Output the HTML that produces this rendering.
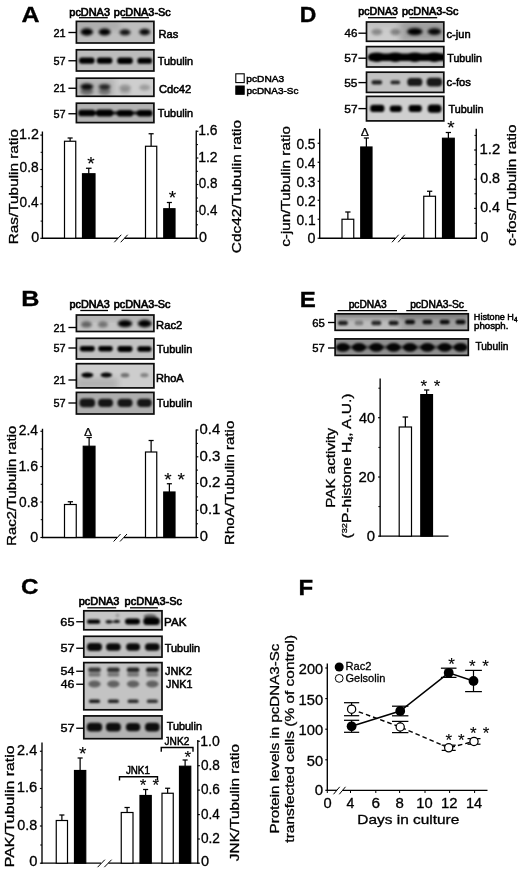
<!DOCTYPE html>
<html lang="en"><head><meta charset="utf-8"><title>Figure</title>
<style>
html,body{margin:0;padding:0;background:#fff;}
body{width:520px;height:870px;overflow:hidden;}
svg{display:block;font-family:"Liberation Sans",sans-serif;fill:#000;}
svg text{fill:#000;stroke:#000;stroke-width:.32px;}
</style></head><body>
<svg width="520" height="870" viewBox="0 0 520 870">
<defs>
<filter id="b1" x="-5%" y="-30%" width="110%" height="160%"><feGaussianBlur stdDeviation="1.1"/></filter>
<filter id="b2" x="-5%" y="-30%" width="110%" height="160%"><feGaussianBlur stdDeviation="1.6"/></filter>
<filter id="b3" x="-10%" y="-40%" width="120%" height="180%"><feGaussianBlur stdDeviation="3"/></filter>
</defs>
<rect x="0" y="0" width="520" height="870" fill="#fff"/>
<text x="21.5" y="22" font-size="22.5" font-weight="700" textLength="18.05" lengthAdjust="spacingAndGlyphs">A</text>
<text x="69.34" y="15.5" font-size="10.4" textLength="40.65" lengthAdjust="spacingAndGlyphs" style="stroke-width:0.65px">pcDNA3</text>
<line x1="79" y1="17.7" x2="107.8" y2="17.7" stroke="#000" stroke-width="1.3"/>
<text x="113.85" y="15.5" font-size="10.4" textLength="56.87" lengthAdjust="spacingAndGlyphs" style="stroke-width:0.65px">pcDNA3-Sc</text>
<line x1="121.5" y1="17.7" x2="149" y2="17.7" stroke="#000" stroke-width="1.3"/>
<clipPath id="c1"><rect x="76.4" y="21.4" width="77.5" height="21.6"/></clipPath>
<rect x="76.4" y="21.4" width="77.5" height="21.6" fill="#bebebe"/>
<g clip-path="url(#c1)" filter="url(#b3)">
<rect x="76" y="21" width="44" height="9" fill="#888" opacity="0.35"/>
</g>
<g clip-path="url(#c1)" filter="url(#b2)">
<ellipse cx="86.8" cy="32" rx="6.25" ry="3.7" fill="#000" opacity="1"/>
<ellipse cx="104.6" cy="32" rx="6" ry="3.6" fill="#000" opacity="1"/>
<ellipse cx="125" cy="32.3" rx="5.5" ry="3" fill="#000" opacity="0.9"/>
<ellipse cx="144.7" cy="32" rx="5.5" ry="3.2" fill="#000" opacity="0.95"/>
</g>
<rect x="76.4" y="21.4" width="77.5" height="21.6" fill="none" stroke="#0c0c0c" stroke-width="1.7"/>
<clipPath id="c2"><rect x="76.4" y="49.8" width="77.5" height="21.2"/></clipPath>
<rect x="76.4" y="49.8" width="77.5" height="21.2" fill="#bcbcbc"/>
<g clip-path="url(#c2)" filter="url(#b1)">
<rect x="79.05" y="57.4" width="15.5" height="6.4" rx="2.72" fill="#000" opacity="1"/>
<rect x="96.85" y="57.4" width="15.5" height="6.4" rx="2.72" fill="#000" opacity="1"/>
<rect x="117.25" y="57.6" width="15.5" height="6.4" rx="2.72" fill="#000" opacity="1"/>
<rect x="137.45" y="57.8" width="14.5" height="6" rx="2.55" fill="#000" opacity="1"/>
</g>
<rect x="76.4" y="49.8" width="77.5" height="21.2" fill="none" stroke="#0c0c0c" stroke-width="1.7"/>
<clipPath id="c3"><rect x="76.4" y="78.2" width="77.5" height="18.1"/></clipPath>
<rect x="76.4" y="78.2" width="77.5" height="18.1" fill="#cecece"/>
<g clip-path="url(#c3)" filter="url(#b3)">
<rect x="76" y="78" width="39" height="19" fill="#777" opacity="0.3"/>
</g>
<g clip-path="url(#c3)" filter="url(#b2)">
<ellipse cx="86.8" cy="86.6" rx="6.5" ry="3" fill="#000" opacity="0.95"/>
<ellipse cx="86.8" cy="91.5" rx="6.5" ry="3.5" fill="#000" opacity="0.42"/>
<ellipse cx="104.6" cy="86.8" rx="6" ry="2.8" fill="#000" opacity="0.8"/>
<ellipse cx="104.6" cy="91.5" rx="6" ry="3.5" fill="#000" opacity="0.36"/>
<ellipse cx="125" cy="88" rx="6" ry="3.5" fill="#000" opacity="0.27"/>
<ellipse cx="144.7" cy="87.5" rx="5.5" ry="3" fill="#000" opacity="0.24"/>
<ellipse cx="125" cy="92" rx="6" ry="3" fill="#000" opacity="0.12"/>
</g>
<rect x="76.4" y="78.2" width="77.5" height="18.1" fill="none" stroke="#0c0c0c" stroke-width="1.7"/>
<clipPath id="c4"><rect x="76.4" y="103.2" width="77.5" height="19.4"/></clipPath>
<rect x="76.4" y="103.2" width="77.5" height="19.4" fill="#b2b2b2"/>
<g clip-path="url(#c4)" filter="url(#b1)">
<rect x="78.3" y="109.7" width="17" height="6.6" rx="2.8" fill="#000" opacity="1"/>
<rect x="96.1" y="109.6" width="17" height="6.8" rx="2.89" fill="#000" opacity="1"/>
<rect x="117" y="109.9" width="16" height="6.6" rx="2.8" fill="#000" opacity="1"/>
<rect x="136.95" y="110" width="15.5" height="6.4" rx="2.72" fill="#000" opacity="1"/>
<rect x="80" y="111.35" width="70" height="3.5" rx="1.49" fill="#000" opacity="0.8"/>
</g>
<rect x="76.4" y="103.2" width="77.5" height="19.4" fill="none" stroke="#0c0c0c" stroke-width="1.7"/>
<text x="53.45" y="36.65" font-size="11.7" textLength="12.26" lengthAdjust="spacingAndGlyphs" style="stroke-width:0.42px">21</text>
<line x1="68.4" y1="32.5" x2="76.4" y2="32.5" stroke="#000" stroke-width="1.35"/>
<text x="53.56" y="64.9" font-size="11.7" textLength="12.14" lengthAdjust="spacingAndGlyphs" style="stroke-width:0.42px">57</text>
<line x1="68.4" y1="60.75" x2="76.4" y2="60.75" stroke="#000" stroke-width="1.35"/>
<text x="53.45" y="92.4" font-size="11.7" textLength="12.26" lengthAdjust="spacingAndGlyphs" style="stroke-width:0.42px">21</text>
<line x1="68.4" y1="88.25" x2="76.4" y2="88.25" stroke="#000" stroke-width="1.35"/>
<text x="53.56" y="117.9" font-size="11.7" textLength="12.14" lengthAdjust="spacingAndGlyphs" style="stroke-width:0.42px">57</text>
<line x1="68.4" y1="113.75" x2="76.4" y2="113.75" stroke="#000" stroke-width="1.35"/>
<text x="158.61" y="38" font-size="11.6" textLength="19.72" lengthAdjust="spacingAndGlyphs" style="stroke-width:0.55px">Ras</text>
<text x="157.78" y="64.5" font-size="11.6" textLength="35.33" lengthAdjust="spacingAndGlyphs" style="stroke-width:0.55px">Tubulin</text>
<text x="158.94" y="93.25" font-size="11.6" textLength="32.33" lengthAdjust="spacingAndGlyphs" style="stroke-width:0.55px">Cdc42</text>
<text x="157.78" y="117" font-size="11.6" textLength="35.33" lengthAdjust="spacingAndGlyphs" style="stroke-width:0.55px">Tubulin</text>
<rect x="235.8" y="73.8" width="8.4" height="8.8" fill="#fff" stroke="#000" stroke-width="1.1"/>
<rect x="235.8" y="86" width="8.4" height="8.3" fill="#000" stroke="#000" stroke-width="1"/>
<text x="246.39" y="82.3" font-size="9.8" textLength="37.72" lengthAdjust="spacingAndGlyphs" style="stroke-width:0.5px">pcDNA3</text>
<text x="246.4" y="94.4" font-size="9.8" textLength="52.05" lengthAdjust="spacingAndGlyphs" style="stroke-width:0.5px">pcDNA3-Sc</text>
<line x1="42.4" y1="131.5" x2="42.4" y2="238.9" stroke="#000" stroke-width="1.35"/>
<line x1="42.4" y1="135.1" x2="40.3" y2="135.1" stroke="#000" stroke-width="1.15"/>
<line x1="42.4" y1="169.5" x2="40.3" y2="169.5" stroke="#000" stroke-width="1.15"/>
<line x1="42.4" y1="203.9" x2="40.3" y2="203.9" stroke="#000" stroke-width="1.15"/>
<line x1="42.4" y1="238.3" x2="40.3" y2="238.3" stroke="#000" stroke-width="1.15"/>
<line x1="42.4" y1="152.3" x2="40.62" y2="152.3" stroke="#000" stroke-width="1"/>
<line x1="42.4" y1="186.7" x2="40.62" y2="186.7" stroke="#000" stroke-width="1"/>
<line x1="42.4" y1="221.1" x2="40.62" y2="221.1" stroke="#000" stroke-width="1"/>
<line x1="42" y1="238.25" x2="118" y2="238.25" stroke="#000" stroke-width="1.3"/>
<line x1="114.3" y1="242.25" x2="121.27" y2="234.75" stroke="#000" stroke-width="1"/>
<line x1="120.73" y1="242.25" x2="127.7" y2="234.75" stroke="#000" stroke-width="1"/>
<line x1="124.5" y1="238.25" x2="196.8" y2="238.25" stroke="#000" stroke-width="1.3"/>
<text x="19" y="139.02" font-size="14.7" textLength="19.86" lengthAdjust="spacingAndGlyphs">1.2</text>
<text x="19.59" y="172.02" font-size="14.7" textLength="19.11" lengthAdjust="spacingAndGlyphs">0.8</text>
<text x="19.59" y="206.52" font-size="14.7" textLength="18.97" lengthAdjust="spacingAndGlyphs">0.4</text>
<text x="31.17" y="241.82" font-size="14.7" textLength="7.95" lengthAdjust="spacingAndGlyphs">0</text>
<text transform="translate(17.5 243) rotate(-90)" x="-1.23" font-size="13.6" textLength="115.28" lengthAdjust="spacingAndGlyphs">Ras/Tubulin ratio</text>
<line x1="70.12" y1="141.25" x2="70.12" y2="138" stroke="#000" stroke-width="1.25"/>
<line x1="67.59" y1="138" x2="72.66" y2="138" stroke="#000" stroke-width="1.25"/>
<rect x="64.5" y="141.25" width="11.25" height="97" fill="#fff" stroke="#000" stroke-width="1.2"/>
<line x1="88.75" y1="173.75" x2="88.75" y2="168.25" stroke="#000" stroke-width="1.25"/>
<line x1="85.94" y1="168.25" x2="91.56" y2="168.25" stroke="#000" stroke-width="1.25"/>
<rect x="82.5" y="173.75" width="12.5" height="64.5" fill="#000" stroke="#000" stroke-width="1.2"/>
<text x="91" y="170.38" font-size="19" text-anchor="middle" style="stroke-width:.12px">*</text>
<line x1="196.25" y1="130.5" x2="196.25" y2="238.85" stroke="#000" stroke-width="1.35"/>
<line x1="196.25" y1="131.25" x2="198.35" y2="131.25" stroke="#000" stroke-width="1.15"/>
<line x1="196.25" y1="158" x2="198.35" y2="158" stroke="#000" stroke-width="1.15"/>
<line x1="196.25" y1="184.5" x2="198.35" y2="184.5" stroke="#000" stroke-width="1.15"/>
<line x1="196.25" y1="211.25" x2="198.35" y2="211.25" stroke="#000" stroke-width="1.15"/>
<line x1="196.25" y1="238.25" x2="198.35" y2="238.25" stroke="#000" stroke-width="1.15"/>
<line x1="196.25" y1="144.6" x2="198.03" y2="144.6" stroke="#000" stroke-width="1"/>
<line x1="196.25" y1="171.3" x2="198.03" y2="171.3" stroke="#000" stroke-width="1"/>
<line x1="196.25" y1="198" x2="198.03" y2="198" stroke="#000" stroke-width="1"/>
<line x1="196.25" y1="224.8" x2="198.03" y2="224.8" stroke="#000" stroke-width="1"/>
<line x1="151.12" y1="146.25" x2="151.12" y2="133.75" stroke="#000" stroke-width="1.25"/>
<line x1="148.59" y1="133.75" x2="153.66" y2="133.75" stroke="#000" stroke-width="1.25"/>
<rect x="145.5" y="146.25" width="11.25" height="92" fill="#fff" stroke="#000" stroke-width="1.2"/>
<line x1="169.38" y1="208.75" x2="169.38" y2="202.5" stroke="#000" stroke-width="1.25"/>
<line x1="166.84" y1="202.5" x2="171.91" y2="202.5" stroke="#000" stroke-width="1.25"/>
<rect x="163.75" y="208.75" width="11.25" height="29.5" fill="#000" stroke="#000" stroke-width="1.2"/>
<text x="172.4" y="204.38" font-size="19" text-anchor="middle" style="stroke-width:.12px">*</text>
<text x="198.23" y="134.72" font-size="14.7" textLength="19.27" lengthAdjust="spacingAndGlyphs">1.6</text>
<text x="198.22" y="161.52" font-size="14.7" textLength="19.42" lengthAdjust="spacingAndGlyphs">1.2</text>
<text x="198.8" y="188.12" font-size="14.7" textLength="18.69" lengthAdjust="spacingAndGlyphs">0.8</text>
<text x="198.8" y="214.62" font-size="14.7" textLength="18.55" lengthAdjust="spacingAndGlyphs">0.4</text>
<text x="198.97" y="241.52" font-size="14.7" textLength="7.95" lengthAdjust="spacingAndGlyphs">0</text>
<text transform="translate(240.8 252.5) rotate(-90)" x="-0.77" font-size="13.6" textLength="133.33" lengthAdjust="spacingAndGlyphs">Cdc42/Tubulin ratio</text>
<text x="299.87" y="22" font-size="22.5" font-weight="700" textLength="16.62" lengthAdjust="spacingAndGlyphs">D</text>
<text x="358.36" y="15" font-size="10.4" textLength="39.52" lengthAdjust="spacingAndGlyphs" style="stroke-width:0.65px">pcDNA3</text>
<line x1="368" y1="17.7" x2="396.2" y2="17.7" stroke="#000" stroke-width="1.3"/>
<text x="401.95" y="15" font-size="10.4" textLength="56.57" lengthAdjust="spacingAndGlyphs" style="stroke-width:0.65px">pcDNA3-Sc</text>
<line x1="409.4" y1="17.7" x2="437.2" y2="17.7" stroke="#000" stroke-width="1.3"/>
<clipPath id="c5"><rect x="366.5" y="22" width="77.3" height="19.3"/></clipPath>
<rect x="366.5" y="22" width="77.3" height="19.3" fill="#cdcdcd"/>
<g clip-path="url(#c5)" filter="url(#b3)">
<rect x="400" y="21" width="46" height="21" fill="#666" opacity="0.42"/>
<rect x="366" y="21" width="80" height="5" fill="#777" opacity="0.25"/>
</g>
<g clip-path="url(#c5)" filter="url(#b2)">
<ellipse cx="376.8" cy="32" rx="5.5" ry="3.25" fill="#000" opacity="0.33"/>
<ellipse cx="395.3" cy="32" rx="5" ry="3.25" fill="#000" opacity="0.36"/>
<ellipse cx="414.8" cy="31.6" rx="7.75" ry="3.6" fill="#000" opacity="1"/>
<ellipse cx="434.4" cy="31.6" rx="6.75" ry="3.3" fill="#000" opacity="0.97"/>
</g>
<rect x="366.5" y="22" width="77.3" height="19.3" fill="none" stroke="#0c0c0c" stroke-width="1.7"/>
<clipPath id="c6"><rect x="366.5" y="46.6" width="77.3" height="20.4"/></clipPath>
<rect x="366.5" y="46.6" width="77.3" height="20.4" fill="#c6c6c6"/>
<g clip-path="url(#c6)" filter="url(#b1)">
<rect x="368.5" y="53.4" width="77" height="7.6" rx="3" fill="#000" opacity="1"/>
<ellipse cx="376.8" cy="57.2" rx="9" ry="4.8" fill="#000" opacity="1"/>
<ellipse cx="395.3" cy="57.2" rx="9" ry="4.8" fill="#000" opacity="1"/>
<ellipse cx="414.8" cy="57.2" rx="9" ry="4.8" fill="#000" opacity="1"/>
<ellipse cx="434.4" cy="57.2" rx="9" ry="4.8" fill="#000" opacity="1"/>
</g>
<rect x="366.5" y="46.6" width="77.3" height="20.4" fill="none" stroke="#0c0c0c" stroke-width="1.7"/>
<clipPath id="c7"><rect x="366.5" y="72.2" width="77.3" height="20.2"/></clipPath>
<rect x="366.5" y="72.2" width="77.3" height="20.2" fill="#c2c2c2"/>
<g clip-path="url(#c7)" filter="url(#b1)">
<rect x="371.55" y="80.3" width="10.5" height="4.2" rx="1.78" fill="#000" opacity="0.85"/>
<rect x="390.55" y="80.5" width="9.5" height="3.8" rx="1.61" fill="#000" opacity="0.82"/>
<rect x="407.3" y="78" width="15" height="8" rx="3.6" fill="#000" opacity="0.88"/>
<rect x="426.65" y="77.8" width="15.5" height="8.8" rx="4" fill="#000" opacity="0.88"/>
</g>
<rect x="366.5" y="72.2" width="77.3" height="20.2" fill="none" stroke="#0c0c0c" stroke-width="1.7"/>
<clipPath id="c8"><rect x="366.5" y="96.4" width="77.3" height="24.5"/></clipPath>
<rect x="366.5" y="96.4" width="77.3" height="24.5" fill="#cfcfcf"/>
<g clip-path="url(#c8)" filter="url(#b1)">
<rect x="370.2" y="104.7" width="14.2" height="7.4" rx="3.15" fill="#000" opacity="1"/>
<rect x="389.8" y="105.6" width="12" height="6.4" rx="2.72" fill="#000" opacity="1"/>
<rect x="408.6" y="105.1" width="13.2" height="7" rx="2.98" fill="#000" opacity="1"/>
<rect x="427.8" y="104.4" width="13.6" height="8.4" rx="3.57" fill="#000" opacity="1"/>
</g>
<rect x="366.5" y="96.4" width="77.3" height="24.5" fill="none" stroke="#0c0c0c" stroke-width="1.7"/>
<text x="344.57" y="37.35" font-size="11.7" textLength="12.85" lengthAdjust="spacingAndGlyphs" style="stroke-width:0.42px">46</text>
<line x1="358.4" y1="33.2" x2="366.5" y2="33.2" stroke="#000" stroke-width="1.35"/>
<text x="344.32" y="62.35" font-size="11.7" textLength="13.22" lengthAdjust="spacingAndGlyphs" style="stroke-width:0.42px">57</text>
<line x1="358.4" y1="58.2" x2="366.5" y2="58.2" stroke="#000" stroke-width="1.35"/>
<text x="344.33" y="86.75" font-size="11.7" textLength="13.1" lengthAdjust="spacingAndGlyphs" style="stroke-width:0.42px">55</text>
<line x1="358.4" y1="82.6" x2="366.5" y2="82.6" stroke="#000" stroke-width="1.35"/>
<text x="344.32" y="112.75" font-size="11.7" textLength="13.22" lengthAdjust="spacingAndGlyphs" style="stroke-width:0.42px">57</text>
<line x1="358.4" y1="108.6" x2="366.5" y2="108.6" stroke="#000" stroke-width="1.35"/>
<text x="446.56" y="37.5" font-size="11.6" textLength="24.07" lengthAdjust="spacingAndGlyphs" style="stroke-width:0.55px">c-jun</text>
<text x="447.29" y="61.75" font-size="11.6" textLength="34.56" lengthAdjust="spacingAndGlyphs" style="stroke-width:0.55px">Tubulin</text>
<text x="446.55" y="86.25" font-size="11.6" textLength="24.28" lengthAdjust="spacingAndGlyphs" style="stroke-width:0.55px">c-fos</text>
<text x="448.53" y="113.3" font-size="11.6" textLength="35.07" lengthAdjust="spacingAndGlyphs" style="stroke-width:0.55px">Tubulin</text>
<line x1="319.7" y1="128.75" x2="319.7" y2="238.85" stroke="#000" stroke-width="1.35"/>
<line x1="319.7" y1="143.25" x2="317.6" y2="143.25" stroke="#000" stroke-width="1.15"/>
<line x1="319.7" y1="162.25" x2="317.6" y2="162.25" stroke="#000" stroke-width="1.15"/>
<line x1="319.7" y1="181.25" x2="317.6" y2="181.25" stroke="#000" stroke-width="1.15"/>
<line x1="319.7" y1="200.25" x2="317.6" y2="200.25" stroke="#000" stroke-width="1.15"/>
<line x1="319.7" y1="219.25" x2="317.6" y2="219.25" stroke="#000" stroke-width="1.15"/>
<line x1="319.7" y1="238.25" x2="317.6" y2="238.25" stroke="#000" stroke-width="1.15"/>
<line x1="319.2" y1="238.25" x2="395.5" y2="238.25" stroke="#000" stroke-width="1.3"/>
<line x1="392" y1="242.25" x2="398.66" y2="234.75" stroke="#000" stroke-width="1"/>
<line x1="398.14" y1="242.25" x2="404.8" y2="234.75" stroke="#000" stroke-width="1"/>
<line x1="401.6" y1="238.25" x2="476.8" y2="238.25" stroke="#000" stroke-width="1.3"/>
<text x="296.39" y="148.87" font-size="14.7" textLength="19.11" lengthAdjust="spacingAndGlyphs">0.5</text>
<text x="296.39" y="167.87" font-size="14.7" textLength="18.97" lengthAdjust="spacingAndGlyphs">0.4</text>
<text x="296.39" y="186.87" font-size="14.7" textLength="19.11" lengthAdjust="spacingAndGlyphs">0.3</text>
<text x="296.38" y="205.87" font-size="14.7" textLength="19.25" lengthAdjust="spacingAndGlyphs">0.2</text>
<text x="296.38" y="224.87" font-size="14.7" textLength="19.25" lengthAdjust="spacingAndGlyphs">0.1</text>
<text x="307.57" y="242.72" font-size="14.7" textLength="7.95" lengthAdjust="spacingAndGlyphs">0</text>
<text transform="translate(290 246.2) rotate(-90)" x="-0.61" font-size="13.4" textLength="120.86" lengthAdjust="spacingAndGlyphs">c-jun/Tubulin ratio</text>
<line x1="347.88" y1="219.25" x2="347.88" y2="212" stroke="#000" stroke-width="1.25"/>
<line x1="345.23" y1="212" x2="350.52" y2="212" stroke="#000" stroke-width="1.25"/>
<rect x="342" y="219.25" width="11.75" height="19" fill="#fff" stroke="#000" stroke-width="1.2"/>
<line x1="366.38" y1="147" x2="366.38" y2="138" stroke="#000" stroke-width="1.25"/>
<line x1="363.84" y1="138" x2="368.91" y2="138" stroke="#000" stroke-width="1.25"/>
<rect x="360.75" y="147" width="11.25" height="91.25" fill="#000" stroke="#000" stroke-width="1.2"/>
<text x="360.75" y="136.2" font-size="11.01" textLength="8.19" lengthAdjust="spacingAndGlyphs" style="stroke-width:.2px">Δ</text>
<line x1="476.25" y1="128.75" x2="476.25" y2="238.85" stroke="#000" stroke-width="1.35"/>
<line x1="476.25" y1="150" x2="474.15" y2="150" stroke="#000" stroke-width="1.15"/>
<line x1="476.25" y1="179.25" x2="474.15" y2="179.25" stroke="#000" stroke-width="1.15"/>
<line x1="476.25" y1="208.4" x2="474.15" y2="208.4" stroke="#000" stroke-width="1.15"/>
<line x1="476.25" y1="238.25" x2="474.15" y2="238.25" stroke="#000" stroke-width="1.15"/>
<line x1="476.25" y1="135.4" x2="474.46" y2="135.4" stroke="#000" stroke-width="1"/>
<line x1="476.25" y1="164.6" x2="474.46" y2="164.6" stroke="#000" stroke-width="1"/>
<line x1="476.25" y1="193.8" x2="474.46" y2="193.8" stroke="#000" stroke-width="1"/>
<line x1="476.25" y1="223.3" x2="474.46" y2="223.3" stroke="#000" stroke-width="1"/>
<line x1="429.62" y1="196.25" x2="429.62" y2="191.25" stroke="#000" stroke-width="1.25"/>
<line x1="426.98" y1="191.25" x2="432.27" y2="191.25" stroke="#000" stroke-width="1.25"/>
<rect x="423.75" y="196.25" width="11.75" height="42" fill="#fff" stroke="#000" stroke-width="1.2"/>
<line x1="448.38" y1="138.25" x2="448.38" y2="132.5" stroke="#000" stroke-width="1.25"/>
<line x1="445.73" y1="132.5" x2="451.02" y2="132.5" stroke="#000" stroke-width="1.25"/>
<rect x="442.5" y="138.25" width="11.75" height="100" fill="#000" stroke="#000" stroke-width="1.2"/>
<text x="450.9" y="134.19" font-size="19" text-anchor="middle" style="stroke-width:.12px">*</text>
<text x="479.56" y="153.72" font-size="14.7" textLength="20.73" lengthAdjust="spacingAndGlyphs">1.2</text>
<text x="480.17" y="182.97" font-size="14.7" textLength="19.95" lengthAdjust="spacingAndGlyphs">0.8</text>
<text x="480.17" y="212.22" font-size="14.7" textLength="19.8" lengthAdjust="spacingAndGlyphs">0.4</text>
<text x="480.57" y="241.82" font-size="14.7" textLength="7.95" lengthAdjust="spacingAndGlyphs">0</text>
<text transform="translate(516 245.4) rotate(-90)" x="-0.61" font-size="13.4" textLength="121.57" lengthAdjust="spacingAndGlyphs">c-fos/Tubulin ratio</text>
<text x="21.29" y="306.25" font-size="22.5" font-weight="700" textLength="18.17" lengthAdjust="spacingAndGlyphs">B</text>
<text x="69.55" y="308.1" font-size="10.4" textLength="40.24" lengthAdjust="spacingAndGlyphs" style="stroke-width:0.65px">pcDNA3</text>
<line x1="80.3" y1="310.5" x2="108" y2="310.5" stroke="#000" stroke-width="1.3"/>
<text x="113.75" y="308.1" font-size="10.4" textLength="56.77" lengthAdjust="spacingAndGlyphs" style="stroke-width:0.65px">pcDNA3-Sc</text>
<line x1="121.5" y1="310.4" x2="148.9" y2="310.4" stroke="#000" stroke-width="1.3"/>
<clipPath id="c9"><rect x="76.4" y="315" width="77.5" height="16.5"/></clipPath>
<rect x="76.4" y="315" width="77.5" height="16.5" fill="#c4c4c4"/>
<g clip-path="url(#c9)" filter="url(#b3)">
<rect x="76" y="314" width="80" height="6" fill="#777" opacity="0.3"/>
</g>
<g clip-path="url(#c9)" filter="url(#b2)">
<ellipse cx="86.4" cy="324.4" rx="5.5" ry="3.2" fill="#000" opacity="0.5"/>
<ellipse cx="102.9" cy="324.4" rx="5" ry="3.2" fill="#000" opacity="0.42"/>
<ellipse cx="125" cy="323.6" rx="7.25" ry="3.7" fill="#000" opacity="1"/>
<ellipse cx="144.7" cy="323.6" rx="7" ry="3.8" fill="#000" opacity="1"/>
</g>
<rect x="76.4" y="315" width="77.5" height="16.5" fill="none" stroke="#0c0c0c" stroke-width="1.7"/>
<clipPath id="c10"><rect x="76.4" y="338.3" width="77.5" height="20.7"/></clipPath>
<rect x="76.4" y="338.3" width="77.5" height="20.7" fill="#c2c2c2"/>
<g clip-path="url(#c10)" filter="url(#b1)">
<rect x="79.8" y="345.9" width="15" height="5.6" rx="2.38" fill="#000" opacity="1"/>
<rect x="98.25" y="346" width="14.5" height="5.4" rx="2.29" fill="#000" opacity="1"/>
<rect x="117.5" y="346.1" width="15" height="5.8" rx="2.46" fill="#000" opacity="1"/>
<rect x="137.4" y="346.3" width="14" height="5.4" rx="2.29" fill="#000" opacity="1"/>
</g>
<rect x="76.4" y="338.3" width="77.5" height="20.7" fill="none" stroke="#0c0c0c" stroke-width="1.7"/>
<clipPath id="c11"><rect x="76.4" y="363.7" width="77.5" height="24.2"/></clipPath>
<rect x="76.4" y="363.7" width="77.5" height="24.2" fill="#cdcdcd"/>
<g clip-path="url(#c11)" filter="url(#b3)">
<rect x="76" y="378" width="42" height="11" fill="#777" opacity="0.35"/>
</g>
<g clip-path="url(#c11)" filter="url(#b1)">
<ellipse cx="87.3" cy="375.1" rx="6" ry="2.6" fill="#000" opacity="1"/>
<ellipse cx="106.3" cy="375.1" rx="5.75" ry="2.5" fill="#000" opacity="0.97"/>
<ellipse cx="125" cy="375.2" rx="4.25" ry="2.2" fill="#000" opacity="0.45"/>
<ellipse cx="144.4" cy="375.2" rx="4" ry="2.1" fill="#000" opacity="0.36"/>
</g>
<rect x="76.4" y="363.7" width="77.5" height="24.2" fill="none" stroke="#0c0c0c" stroke-width="1.7"/>
<clipPath id="c12"><rect x="76.4" y="392.4" width="77.5" height="21.6"/></clipPath>
<rect x="76.4" y="392.4" width="77.5" height="21.6" fill="#adadad"/>
<g clip-path="url(#c12)" filter="url(#b1)">
<rect x="79.5" y="398.4" width="15.6" height="8.8" rx="4" fill="#000" opacity="0.88"/>
<rect x="98" y="398.7" width="15" height="8.4" rx="4" fill="#000" opacity="0.88"/>
<rect x="117.5" y="398.7" width="15" height="8.4" rx="4" fill="#000" opacity="0.88"/>
<rect x="137.1" y="398.8" width="14.6" height="8.2" rx="4" fill="#000" opacity="0.88"/>
</g>
<rect x="76.4" y="392.4" width="77.5" height="21.6" fill="none" stroke="#0c0c0c" stroke-width="1.7"/>
<text x="53.45" y="331.65" font-size="11.7" textLength="12.26" lengthAdjust="spacingAndGlyphs" style="stroke-width:0.42px">21</text>
<line x1="68.4" y1="327.5" x2="76.4" y2="327.5" stroke="#000" stroke-width="1.35"/>
<text x="53.56" y="352.15" font-size="11.7" textLength="12.14" lengthAdjust="spacingAndGlyphs" style="stroke-width:0.42px">57</text>
<line x1="68.4" y1="348" x2="76.4" y2="348" stroke="#000" stroke-width="1.35"/>
<text x="53.45" y="384.15" font-size="11.7" textLength="12.26" lengthAdjust="spacingAndGlyphs" style="stroke-width:0.42px">21</text>
<line x1="68.4" y1="380" x2="76.4" y2="380" stroke="#000" stroke-width="1.35"/>
<text x="53.56" y="407.15" font-size="11.7" textLength="12.14" lengthAdjust="spacingAndGlyphs" style="stroke-width:0.42px">57</text>
<line x1="68.4" y1="403" x2="76.4" y2="403" stroke="#000" stroke-width="1.35"/>
<text x="156.1" y="328.75" font-size="11.6" textLength="26.16" lengthAdjust="spacingAndGlyphs" style="stroke-width:0.55px">Rac2</text>
<text x="156.78" y="353.25" font-size="11.6" textLength="35.59" lengthAdjust="spacingAndGlyphs" style="stroke-width:0.55px">Tubulin</text>
<text x="156.12" y="382" font-size="11.6" textLength="27.6" lengthAdjust="spacingAndGlyphs" style="stroke-width:0.55px">RhoA</text>
<text x="156.78" y="407" font-size="11.6" textLength="35.59" lengthAdjust="spacingAndGlyphs" style="stroke-width:0.55px">Tubulin</text>
<line x1="42.5" y1="428.75" x2="42.5" y2="538.1" stroke="#000" stroke-width="1.35"/>
<line x1="42.5" y1="431.25" x2="40.4" y2="431.25" stroke="#000" stroke-width="1.15"/>
<line x1="42.5" y1="466.6" x2="40.4" y2="466.6" stroke="#000" stroke-width="1.15"/>
<line x1="42.5" y1="502" x2="40.4" y2="502" stroke="#000" stroke-width="1.15"/>
<line x1="42.5" y1="537.5" x2="40.4" y2="537.5" stroke="#000" stroke-width="1.15"/>
<line x1="42.5" y1="449" x2="40.72" y2="449" stroke="#000" stroke-width="1"/>
<line x1="42.5" y1="484.3" x2="40.72" y2="484.3" stroke="#000" stroke-width="1"/>
<line x1="42.5" y1="519.7" x2="40.72" y2="519.7" stroke="#000" stroke-width="1"/>
<line x1="42" y1="537.5" x2="117" y2="537.5" stroke="#000" stroke-width="1.3"/>
<line x1="113.6" y1="541.5" x2="120.57" y2="534" stroke="#000" stroke-width="1"/>
<line x1="120.03" y1="541.5" x2="127" y2="534" stroke="#000" stroke-width="1"/>
<line x1="124" y1="537.5" x2="196.8" y2="537.5" stroke="#000" stroke-width="1.3"/>
<text x="18.71" y="435.02" font-size="14.7" textLength="19.25" lengthAdjust="spacingAndGlyphs">2.4</text>
<text x="18.41" y="470.82" font-size="14.7" textLength="19.7" lengthAdjust="spacingAndGlyphs">1.6</text>
<text x="18.99" y="506.92" font-size="14.7" textLength="19.11" lengthAdjust="spacingAndGlyphs">0.8</text>
<text x="30.17" y="542.42" font-size="14.7" textLength="7.95" lengthAdjust="spacingAndGlyphs">0</text>
<text transform="translate(15.8 544.5) rotate(-90)" x="-1.19" font-size="13.4" textLength="119.92" lengthAdjust="spacingAndGlyphs">Rac2/Tubulin ratio</text>
<line x1="70.38" y1="504.5" x2="70.38" y2="501.75" stroke="#000" stroke-width="1.25"/>
<line x1="67.73" y1="501.75" x2="73.02" y2="501.75" stroke="#000" stroke-width="1.25"/>
<rect x="64.5" y="504.5" width="11.75" height="33" fill="#fff" stroke="#000" stroke-width="1.2"/>
<line x1="89.12" y1="446.25" x2="89.12" y2="437.5" stroke="#000" stroke-width="1.25"/>
<line x1="86.48" y1="437.5" x2="91.77" y2="437.5" stroke="#000" stroke-width="1.25"/>
<rect x="83.25" y="446.25" width="11.75" height="91.25" fill="#000" stroke="#000" stroke-width="1.2"/>
<text x="84.05" y="435.6" font-size="10.87" textLength="8.19" lengthAdjust="spacingAndGlyphs" style="stroke-width:.2px">Δ</text>
<line x1="196.25" y1="429.5" x2="196.25" y2="538.1" stroke="#000" stroke-width="1.35"/>
<line x1="196.25" y1="430" x2="198.35" y2="430" stroke="#000" stroke-width="1.15"/>
<line x1="196.25" y1="456.8" x2="198.35" y2="456.8" stroke="#000" stroke-width="1.15"/>
<line x1="196.25" y1="483.5" x2="198.35" y2="483.5" stroke="#000" stroke-width="1.15"/>
<line x1="196.25" y1="510.3" x2="198.35" y2="510.3" stroke="#000" stroke-width="1.15"/>
<line x1="196.25" y1="537.5" x2="198.35" y2="537.5" stroke="#000" stroke-width="1.15"/>
<line x1="196.25" y1="443.4" x2="198.03" y2="443.4" stroke="#000" stroke-width="1"/>
<line x1="196.25" y1="470.1" x2="198.03" y2="470.1" stroke="#000" stroke-width="1"/>
<line x1="196.25" y1="496.9" x2="198.03" y2="496.9" stroke="#000" stroke-width="1"/>
<line x1="196.25" y1="523.8" x2="198.03" y2="523.8" stroke="#000" stroke-width="1"/>
<line x1="151.12" y1="452" x2="151.12" y2="440.5" stroke="#000" stroke-width="1.25"/>
<line x1="148.59" y1="440.5" x2="153.66" y2="440.5" stroke="#000" stroke-width="1.25"/>
<rect x="145.5" y="452" width="11.25" height="85.5" fill="#fff" stroke="#000" stroke-width="1.2"/>
<line x1="169.38" y1="492" x2="169.38" y2="483.75" stroke="#000" stroke-width="1.25"/>
<line x1="166.84" y1="483.75" x2="171.91" y2="483.75" stroke="#000" stroke-width="1.25"/>
<rect x="163.75" y="492" width="11.25" height="45.5" fill="#000" stroke="#000" stroke-width="1.2"/>
<text x="168" y="486.29" font-size="19" text-anchor="middle" style="stroke-width:.12px">*</text>
<text x="181.25" y="486.29" font-size="19" text-anchor="middle" style="stroke-width:.12px">*</text>
<text x="199.55" y="433.52" font-size="14.7" textLength="20.63" lengthAdjust="spacingAndGlyphs">0.4</text>
<text x="199.55" y="460.52" font-size="14.7" textLength="20.79" lengthAdjust="spacingAndGlyphs">0.3</text>
<text x="199.55" y="487.22" font-size="14.7" textLength="20.95" lengthAdjust="spacingAndGlyphs">0.2</text>
<text x="199.55" y="514.02" font-size="14.7" textLength="20.95" lengthAdjust="spacingAndGlyphs">0.1</text>
<text x="199.86" y="540.52" font-size="14.7" textLength="8.17" lengthAdjust="spacingAndGlyphs">0</text>
<text transform="translate(233.8 543.75) rotate(-90)" x="-1.21" font-size="13.4" textLength="124.25" lengthAdjust="spacingAndGlyphs">RhoA/Tubulin ratio</text>
<text x="21.03" y="594.25" font-size="22.5" font-weight="700" textLength="17.51" lengthAdjust="spacingAndGlyphs">C</text>
<text x="78.74" y="605" font-size="10.4" textLength="40.65" lengthAdjust="spacingAndGlyphs" style="stroke-width:0.65px">pcDNA3</text>
<line x1="87.3" y1="607.8" x2="116.2" y2="607.8" stroke="#000" stroke-width="1.3"/>
<text x="124.64" y="605" font-size="10.4" textLength="57.38" lengthAdjust="spacingAndGlyphs" style="stroke-width:0.65px">pcDNA3-Sc</text>
<line x1="130" y1="607.8" x2="157.9" y2="607.8" stroke="#000" stroke-width="1.3"/>
<clipPath id="c13"><rect x="83.8" y="610.8" width="78.2" height="19"/></clipPath>
<rect x="83.8" y="610.8" width="78.2" height="19" fill="#c6c6c6"/>
<g clip-path="url(#c13)" filter="url(#b1)">
<rect x="87.1" y="619.4" width="13" height="4.4" rx="1.87" fill="#000" opacity="1"/>
<ellipse cx="108.8" cy="621.8" rx="3.25" ry="1.8" fill="#000" opacity="0.9"/>
<ellipse cx="116.9" cy="621.4" rx="3" ry="1.7" fill="#000" opacity="0.9"/>
<rect x="109.8" y="620.9" width="6" height="1.6" rx="0.68" fill="#000" opacity="0.8"/>
<rect x="125" y="618.4" width="15" height="6" rx="3" fill="#000" opacity="1"/>
<rect x="143.25" y="617.4" width="16.5" height="7.6" rx="3.5" fill="#000" opacity="1"/>
<ellipse cx="150" cy="616.3" rx="6.5" ry="2.25" fill="#000" opacity="0.5"/>
<ellipse cx="117.5" cy="615.5" rx="2" ry="2" fill="#000" opacity="0.2"/>
</g>
<rect x="83.8" y="610.8" width="78.2" height="19" fill="none" stroke="#0c0c0c" stroke-width="1.7"/>
<clipPath id="c14"><rect x="83.8" y="636.3" width="78.2" height="20.8"/></clipPath>
<rect x="83.8" y="636.3" width="78.2" height="20.8" fill="#c0c0c0"/>
<g clip-path="url(#c14)" filter="url(#b1)">
<rect x="87" y="643.1" width="15" height="7.8" rx="3.6" fill="#000" opacity="0.95"/>
<rect x="106.1" y="643.2" width="14.6" height="7.6" rx="3.6" fill="#000" opacity="0.95"/>
<rect x="126.1" y="643.3" width="14" height="7.4" rx="3.6" fill="#000" opacity="0.95"/>
<rect x="145" y="643.2" width="14.6" height="7.6" rx="3.6" fill="#000" opacity="0.95"/>
</g>
<rect x="83.8" y="636.3" width="78.2" height="20.8" fill="none" stroke="#0c0c0c" stroke-width="1.7"/>
<clipPath id="c15"><rect x="83.8" y="662.6" width="78.2" height="47.2"/></clipPath>
<rect x="83.8" y="662.6" width="78.2" height="47.2" fill="#c3c3c3"/>
<g clip-path="url(#c15)" filter="url(#b1)">
<rect x="88.25" y="667.6" width="12.5" height="4.4" rx="1.87" fill="#000" opacity="0.72"/>
<rect x="88.5" y="672.8" width="12" height="3.6" rx="1.53" fill="#000" opacity="0.42"/>
<ellipse cx="94.5" cy="684" rx="6.25" ry="3.5" fill="#000" opacity="0.5"/>
<rect x="89" y="699.5" width="11" height="3.6" rx="1.53" fill="#000" opacity="0.88"/>
<rect x="107.15" y="667.6" width="12.5" height="4.4" rx="1.87" fill="#000" opacity="0.77"/>
<rect x="107.4" y="672.8" width="12" height="3.6" rx="1.53" fill="#000" opacity="0.42"/>
<ellipse cx="113.4" cy="684" rx="6.25" ry="3.5" fill="#000" opacity="0.5"/>
<rect x="107.9" y="699.5" width="11" height="3.6" rx="1.53" fill="#000" opacity="0.84"/>
<rect x="126.85" y="667.6" width="12.5" height="4.4" rx="1.87" fill="#000" opacity="0.82"/>
<rect x="127.1" y="672.8" width="12" height="3.6" rx="1.53" fill="#000" opacity="0.42"/>
<ellipse cx="133.1" cy="684" rx="6.25" ry="3.5" fill="#000" opacity="0.5"/>
<rect x="127.6" y="699.5" width="11" height="3.6" rx="1.53" fill="#000" opacity="0.8"/>
<rect x="146.05" y="667.6" width="12.5" height="4.4" rx="1.87" fill="#000" opacity="0.87"/>
<rect x="146.3" y="672.8" width="12" height="3.6" rx="1.53" fill="#000" opacity="0.42"/>
<ellipse cx="152.3" cy="684" rx="6.25" ry="3.5" fill="#000" opacity="0.5"/>
<rect x="146.8" y="699.5" width="11" height="3.6" rx="1.53" fill="#000" opacity="0.76"/>
</g>
<rect x="83.8" y="662.6" width="78.2" height="47.2" fill="none" stroke="#0c0c0c" stroke-width="1.7"/>
<clipPath id="c16"><rect x="83.8" y="715.9" width="78.2" height="22.8"/></clipPath>
<rect x="83.8" y="715.9" width="78.2" height="22.8" fill="#b2b2b2"/>
<g clip-path="url(#c16)" filter="url(#b1)">
<rect x="86.8" y="722.8" width="15.4" height="8.6" rx="4" fill="#000" opacity="0.93"/>
<rect x="105.9" y="722.8" width="15" height="8.6" rx="4" fill="#000" opacity="0.93"/>
<rect x="125.9" y="722.9" width="14.4" height="8.4" rx="4" fill="#000" opacity="0.93"/>
<rect x="145" y="722.8" width="14.6" height="8.6" rx="4" fill="#000" opacity="0.93"/>
</g>
<rect x="83.8" y="715.9" width="78.2" height="22.8" fill="none" stroke="#0c0c0c" stroke-width="1.7"/>
<text x="60.37" y="625.94" font-size="11.8" textLength="14.09" lengthAdjust="spacingAndGlyphs" style="stroke-width:0.42px">65</text>
<line x1="76.2" y1="621.75" x2="83.8" y2="621.75" stroke="#000" stroke-width="1.35"/>
<text x="60.49" y="652.44" font-size="11.8" textLength="14.09" lengthAdjust="spacingAndGlyphs" style="stroke-width:0.42px">57</text>
<line x1="76.2" y1="648.25" x2="83.8" y2="648.25" stroke="#000" stroke-width="1.35"/>
<text x="60.5" y="675.44" font-size="11.8" textLength="13.82" lengthAdjust="spacingAndGlyphs" style="stroke-width:0.42px">54</text>
<line x1="76.2" y1="671.25" x2="83.8" y2="671.25" stroke="#000" stroke-width="1.35"/>
<text x="60.75" y="688.44" font-size="11.8" textLength="13.69" lengthAdjust="spacingAndGlyphs" style="stroke-width:0.42px">46</text>
<line x1="76.2" y1="684.25" x2="83.8" y2="684.25" stroke="#000" stroke-width="1.35"/>
<text x="60.49" y="732.44" font-size="11.8" textLength="14.09" lengthAdjust="spacingAndGlyphs" style="stroke-width:0.42px">57</text>
<line x1="76.2" y1="728.25" x2="83.8" y2="728.25" stroke="#000" stroke-width="1.35"/>
<text x="164.07" y="625.5" font-size="11.6" textLength="22.31" lengthAdjust="spacingAndGlyphs" style="stroke-width:0.55px">PAK</text>
<text x="164.78" y="651.75" font-size="11.6" textLength="35.33" lengthAdjust="spacingAndGlyphs" style="stroke-width:0.55px">Tubulin</text>
<text x="164.89" y="675" font-size="11.6" textLength="26.92" lengthAdjust="spacingAndGlyphs" style="stroke-width:0.55px">JNK2</text>
<text x="166.09" y="687.5" font-size="11.6" textLength="26.41" lengthAdjust="spacingAndGlyphs" style="stroke-width:0.55px">JNK1</text>
<text x="166.78" y="729.5" font-size="11.6" textLength="35.23" lengthAdjust="spacingAndGlyphs" style="stroke-width:0.55px">Tubulin</text>
<line x1="42" y1="742.5" x2="42" y2="863.8" stroke="#000" stroke-width="1.35"/>
<line x1="42" y1="751.25" x2="39.9" y2="751.25" stroke="#000" stroke-width="1.15"/>
<line x1="42" y1="788.5" x2="39.9" y2="788.5" stroke="#000" stroke-width="1.15"/>
<line x1="42" y1="826" x2="39.9" y2="826" stroke="#000" stroke-width="1.15"/>
<line x1="42" y1="863.2" x2="39.9" y2="863.2" stroke="#000" stroke-width="1.15"/>
<line x1="42" y1="770" x2="40.22" y2="770" stroke="#000" stroke-width="1"/>
<line x1="42" y1="807.3" x2="40.22" y2="807.3" stroke="#000" stroke-width="1"/>
<line x1="42" y1="845" x2="40.22" y2="845" stroke="#000" stroke-width="1"/>
<line x1="41.5" y1="863.2" x2="101" y2="863.2" stroke="#000" stroke-width="1.3"/>
<line x1="97.6" y1="867.2" x2="104.88" y2="859.7" stroke="#000" stroke-width="1"/>
<line x1="104.32" y1="867.2" x2="111.6" y2="859.7" stroke="#000" stroke-width="1"/>
<line x1="108.4" y1="863.2" x2="198.4" y2="863.2" stroke="#000" stroke-width="1.3"/>
<text x="17.08" y="754.92" font-size="14.7" textLength="20.1" lengthAdjust="spacingAndGlyphs">2.4</text>
<text x="16.76" y="792.32" font-size="14.7" textLength="20.57" lengthAdjust="spacingAndGlyphs">1.6</text>
<text x="17.37" y="829.52" font-size="14.7" textLength="19.95" lengthAdjust="spacingAndGlyphs">0.8</text>
<text x="29.16" y="865.52" font-size="14.7" textLength="8.17" lengthAdjust="spacingAndGlyphs">0</text>
<text transform="translate(14.2 866) rotate(-90)" x="-1.27" font-size="13.4" textLength="121.85" lengthAdjust="spacingAndGlyphs">PAK/Tubulin ratio</text>
<line x1="61.88" y1="820.5" x2="61.88" y2="815" stroke="#000" stroke-width="1.25"/>
<line x1="59.34" y1="815" x2="64.41" y2="815" stroke="#000" stroke-width="1.25"/>
<rect x="56.25" y="820.5" width="11.25" height="42.7" fill="#fff" stroke="#000" stroke-width="1.2"/>
<line x1="80.12" y1="770.5" x2="80.12" y2="758" stroke="#000" stroke-width="1.25"/>
<line x1="77.59" y1="758" x2="82.66" y2="758" stroke="#000" stroke-width="1.25"/>
<rect x="74.5" y="770.5" width="11.25" height="92.7" fill="#000" stroke="#000" stroke-width="1.2"/>
<text x="82.6" y="759.99" font-size="19" text-anchor="middle" style="stroke-width:.12px">*</text>
<line x1="127.12" y1="812.5" x2="127.12" y2="807.5" stroke="#000" stroke-width="1.25"/>
<line x1="124.48" y1="807.5" x2="129.77" y2="807.5" stroke="#000" stroke-width="1.25"/>
<rect x="121.25" y="812.5" width="11.75" height="50.7" fill="#fff" stroke="#000" stroke-width="1.2"/>
<line x1="145.62" y1="795.5" x2="145.62" y2="789.5" stroke="#000" stroke-width="1.25"/>
<line x1="143.09" y1="789.5" x2="148.16" y2="789.5" stroke="#000" stroke-width="1.25"/>
<rect x="140" y="795.5" width="11.25" height="67.7" fill="#000" stroke="#000" stroke-width="1.2"/>
<line x1="167.62" y1="793.25" x2="167.62" y2="788.25" stroke="#000" stroke-width="1.25"/>
<line x1="165.09" y1="788.25" x2="170.16" y2="788.25" stroke="#000" stroke-width="1.25"/>
<rect x="162" y="793.25" width="11.25" height="69.95" fill="#fff" stroke="#000" stroke-width="1.2"/>
<line x1="185.12" y1="766.25" x2="185.12" y2="760" stroke="#000" stroke-width="1.25"/>
<line x1="182.59" y1="760" x2="187.66" y2="760" stroke="#000" stroke-width="1.25"/>
<rect x="179.5" y="766.25" width="11.25" height="96.95" fill="#000" stroke="#000" stroke-width="1.2"/>
<line x1="197.8" y1="740" x2="197.8" y2="863.8" stroke="#000" stroke-width="1.35"/>
<line x1="197.8" y1="741.25" x2="199.9" y2="741.25" stroke="#000" stroke-width="1.15"/>
<line x1="197.8" y1="765.7" x2="199.9" y2="765.7" stroke="#000" stroke-width="1.15"/>
<line x1="197.8" y1="790.1" x2="199.9" y2="790.1" stroke="#000" stroke-width="1.15"/>
<line x1="197.8" y1="814.6" x2="199.9" y2="814.6" stroke="#000" stroke-width="1.15"/>
<line x1="197.8" y1="839" x2="199.9" y2="839" stroke="#000" stroke-width="1.15"/>
<line x1="197.8" y1="863.2" x2="199.9" y2="863.2" stroke="#000" stroke-width="1.15"/>
<text x="200.32" y="745.92" font-size="14.7" textLength="19.49" lengthAdjust="spacingAndGlyphs">1.0</text>
<text x="200.89" y="770.12" font-size="14.7" textLength="18.9" lengthAdjust="spacingAndGlyphs">0.8</text>
<text x="200.89" y="794.12" font-size="14.7" textLength="18.9" lengthAdjust="spacingAndGlyphs">0.6</text>
<text x="200.9" y="818.62" font-size="14.7" textLength="18.76" lengthAdjust="spacingAndGlyphs">0.4</text>
<text x="200.89" y="843.02" font-size="14.7" textLength="19.04" lengthAdjust="spacingAndGlyphs">0.2</text>
<text x="201.07" y="866.42" font-size="14.7" textLength="8.06" lengthAdjust="spacingAndGlyphs">0</text>
<text transform="translate(238.8 861) rotate(-90)" x="-0.15" font-size="13.4" textLength="117.21" lengthAdjust="spacingAndGlyphs">JNK/Tubulin ratio</text>
<polyline points="119.5,780.5 119.5,776.8 157.5,776.8 157.5,780.5" fill="none" stroke="#000" stroke-width="1.4"/>
<text x="125.9" y="773.8" font-size="10.8" textLength="23.95" lengthAdjust="spacingAndGlyphs" style="stroke-width:0.5px">JNK1</text>
<text x="143" y="791.05" font-size="17" text-anchor="middle" style="stroke-width:.12px">*</text>
<text x="155.9" y="791.05" font-size="17" text-anchor="middle" style="stroke-width:.12px">*</text>
<polyline points="161.25,751.8 161.25,747.5 193,747.5 193,751.8" fill="none" stroke="#000" stroke-width="1.4"/>
<text x="164.5" y="744.7" font-size="10.8" textLength="24.77" lengthAdjust="spacingAndGlyphs" style="stroke-width:0.5px">JNK2</text>
<text x="187.9" y="762.75" font-size="17" text-anchor="middle" style="stroke-width:.12px">*</text>
<text x="299.8" y="306.75" font-size="22.5" font-weight="700" textLength="16.09" lengthAdjust="spacingAndGlyphs">E</text>
<text x="348.64" y="308" font-size="10.3" textLength="37.98" lengthAdjust="spacingAndGlyphs" style="stroke-width:0.55px">pcDNA3</text>
<line x1="337.5" y1="310.7" x2="397" y2="310.7" stroke="#000" stroke-width="1.3"/>
<text x="410.13" y="308" font-size="10.3" textLength="53.82" lengthAdjust="spacingAndGlyphs" style="stroke-width:0.55px">pcDNA3-Sc</text>
<line x1="406.25" y1="310.7" x2="467.3" y2="310.7" stroke="#000" stroke-width="1.3"/>
<clipPath id="c17"><rect x="335.1" y="313.8" width="133.2" height="16.5"/></clipPath>
<rect x="335.1" y="313.8" width="133.2" height="16.5" fill="#bdbdbd"/>
<g clip-path="url(#c17)" filter="url(#b3)">
<rect x="334" y="311" width="136" height="5.5" fill="#222" opacity="0.6"/>
<rect x="400" y="312" width="70" height="19" fill="#555" opacity="0.3"/>
</g>
<g clip-path="url(#c17)" filter="url(#b1)">
<rect x="338" y="320.8" width="9.8" height="4.4" rx="1.87" fill="#000" opacity="0.84"/>
<rect x="354.75" y="320.8" width="8.5" height="4.4" rx="1.87" fill="#000" opacity="0.35"/>
<rect x="371.4" y="320.8" width="9.8" height="4.4" rx="1.87" fill="#000" opacity="0.79"/>
<rect x="388.7" y="320.8" width="9.8" height="4.4" rx="1.87" fill="#000" opacity="0.86"/>
<rect x="405.1" y="319.8" width="9.8" height="4.4" rx="1.87" fill="#000" opacity="0.93"/>
<rect x="422.5" y="319.8" width="9.8" height="4.4" rx="1.87" fill="#000" opacity="0.88"/>
<rect x="439.8" y="319.8" width="9.8" height="4.4" rx="1.87" fill="#000" opacity="0.93"/>
<rect x="455.7" y="319.8" width="9.8" height="4.4" rx="1.87" fill="#000" opacity="0.93"/>
</g>
<rect x="335.1" y="313.8" width="133.2" height="16.5" fill="none" stroke="#0c0c0c" stroke-width="1.7"/>
<clipPath id="c18"><rect x="335.1" y="338.9" width="133.2" height="16.5"/></clipPath>
<rect x="335.1" y="338.9" width="133.2" height="16.5" fill="#909090"/>
<g clip-path="url(#c18)" filter="url(#b1)">
<ellipse cx="342.9" cy="347.3" rx="7" ry="4.4" fill="#000" opacity="0.95"/>
<ellipse cx="359" cy="347.3" rx="7" ry="4.4" fill="#000" opacity="0.95"/>
<ellipse cx="376.3" cy="347.3" rx="7" ry="4.4" fill="#000" opacity="0.95"/>
<ellipse cx="393.6" cy="347.3" rx="7" ry="4.4" fill="#000" opacity="0.95"/>
<ellipse cx="410" cy="347.3" rx="7" ry="4.4" fill="#000" opacity="0.95"/>
<ellipse cx="427.4" cy="347.3" rx="7" ry="4.4" fill="#000" opacity="0.95"/>
<ellipse cx="444.7" cy="347.3" rx="7" ry="4.4" fill="#000" opacity="0.95"/>
<ellipse cx="460.6" cy="347.3" rx="7" ry="4.4" fill="#000" opacity="0.95"/>
<rect x="337.5" y="345.3" width="128" height="4" rx="1.7" fill="#000" opacity="0.45"/>
</g>
<rect x="335.1" y="338.9" width="133.2" height="16.5" fill="none" stroke="#0c0c0c" stroke-width="1.7"/>
<text x="312.23" y="326.51" font-size="11.3" textLength="12.57" lengthAdjust="spacingAndGlyphs" style="stroke-width:0.42px">65</text>
<line x1="328" y1="322.5" x2="335" y2="322.5" stroke="#000" stroke-width="1.35"/>
<text x="312.35" y="352.01" font-size="11.3" textLength="12.57" lengthAdjust="spacingAndGlyphs" style="stroke-width:0.42px">57</text>
<line x1="328" y1="348" x2="335" y2="348" stroke="#000" stroke-width="1.35"/>
<text x="473.87" y="319.7" font-size="9.3" textLength="40.09" lengthAdjust="spacingAndGlyphs" style="stroke-width:0.5px">Histone H</text>
<text x="514.07" y="321.8" font-size="6.5" textLength="3.49" lengthAdjust="spacingAndGlyphs" style="stroke-width:0.5px">4</text>
<text x="474.02" y="328.5" font-size="9.3" textLength="34.43" lengthAdjust="spacingAndGlyphs" style="stroke-width:0.5px">phosph.</text>
<text x="475.4" y="349.7" font-size="10.2" textLength="32.97" lengthAdjust="spacingAndGlyphs" style="stroke-width:0.5px">Tubulin</text>
<line x1="380.15" y1="378.6" x2="380.15" y2="536.75" stroke="#000" stroke-width="1.35"/>
<line x1="380.15" y1="417.7" x2="378.05" y2="417.7" stroke="#000" stroke-width="1.15"/>
<line x1="380.15" y1="477" x2="378.05" y2="477" stroke="#000" stroke-width="1.15"/>
<line x1="380.15" y1="536.15" x2="378.05" y2="536.15" stroke="#000" stroke-width="1.15"/>
<line x1="380.15" y1="388.2" x2="378.36" y2="388.2" stroke="#000" stroke-width="1"/>
<line x1="380.15" y1="447.4" x2="378.36" y2="447.4" stroke="#000" stroke-width="1"/>
<line x1="380.15" y1="506.6" x2="378.36" y2="506.6" stroke="#000" stroke-width="1"/>
<line x1="379.6" y1="536.15" x2="448.5" y2="536.15" stroke="#000" stroke-width="1.3"/>
<text x="358.91" y="422.92" font-size="14.7" textLength="16.11" lengthAdjust="spacingAndGlyphs">40</text>
<text x="358.45" y="482.22" font-size="14.7" textLength="16.58" lengthAdjust="spacingAndGlyphs">20</text>
<text x="366.75" y="540.72" font-size="14.7" textLength="8.29" lengthAdjust="spacingAndGlyphs">0</text>
<line x1="405.35" y1="427" x2="405.35" y2="417" stroke="#000" stroke-width="1.25"/>
<line x1="402.58" y1="417" x2="408.12" y2="417" stroke="#000" stroke-width="1.25"/>
<rect x="399.2" y="427" width="12.3" height="109.15" fill="#fff" stroke="#000" stroke-width="1.2"/>
<line x1="426.65" y1="394.6" x2="426.65" y2="390" stroke="#000" stroke-width="1.25"/>
<line x1="424.02" y1="390" x2="429.28" y2="390" stroke="#000" stroke-width="1.25"/>
<rect x="420.8" y="394.6" width="11.7" height="141.55" fill="#000" stroke="#000" stroke-width="1.2"/>
<text x="423.8" y="392.06" font-size="17" text-anchor="middle" style="stroke-width:.12px">*</text>
<text x="437" y="392.06" font-size="17" text-anchor="middle" style="stroke-width:.12px">*</text>
<text transform="translate(334.6 506.5) rotate(-90)" x="-1.22" font-size="12.6" textLength="79.92" lengthAdjust="spacingAndGlyphs" style="stroke-width:0.3px">PAK activity</text>
<text style="stroke-width:.3px" transform="translate(351 538.5) rotate(-90)" font-size="12.6" textLength="145" lengthAdjust="spacingAndGlyphs">(<tspan font-size="7.5" dy="-4">32</tspan><tspan dy="4">P-histone H</tspan><tspan font-size="7.5" dy="2">4</tspan><tspan dy="-2">, A.U.)</tspan></text>
<text x="298.56" y="595" font-size="22.5" font-weight="700" textLength="14.68" lengthAdjust="spacingAndGlyphs">F</text>
<line x1="327.3" y1="663.5" x2="327.3" y2="790.9" stroke="#000" stroke-width="1.35"/>
<line x1="327.3" y1="668" x2="325.3" y2="668" stroke="#000" stroke-width="1.15"/>
<line x1="327.3" y1="698.6" x2="325.3" y2="698.6" stroke="#000" stroke-width="1.15"/>
<line x1="327.3" y1="729.2" x2="325.3" y2="729.2" stroke="#000" stroke-width="1.15"/>
<line x1="327.3" y1="759.8" x2="325.3" y2="759.8" stroke="#000" stroke-width="1.15"/>
<line x1="327.3" y1="790.3" x2="325.3" y2="790.3" stroke="#000" stroke-width="1.15"/>
<line x1="326.8" y1="790.3" x2="337" y2="790.3" stroke="#000" stroke-width="1.3"/>
<line x1="333.5" y1="794.3" x2="339.74" y2="786.8" stroke="#000" stroke-width="1"/>
<line x1="339.26" y1="794.3" x2="345.5" y2="786.8" stroke="#000" stroke-width="1"/>
<line x1="342.5" y1="790.3" x2="487.5" y2="790.3" stroke="#000" stroke-width="1.3"/>
<line x1="327.3" y1="790.3" x2="327.3" y2="793" stroke="#000" stroke-width="1"/>
<line x1="350.5" y1="790.3" x2="350.5" y2="793" stroke="#000" stroke-width="1"/>
<line x1="375.8" y1="790.3" x2="375.8" y2="793" stroke="#000" stroke-width="1"/>
<line x1="399.6" y1="790.3" x2="399.6" y2="793" stroke="#000" stroke-width="1"/>
<line x1="425" y1="790.3" x2="425" y2="793" stroke="#000" stroke-width="1"/>
<line x1="449.6" y1="790.3" x2="449.6" y2="793" stroke="#000" stroke-width="1"/>
<line x1="474.6" y1="790.3" x2="474.6" y2="793" stroke="#000" stroke-width="1"/>
<text x="298.87" y="674.11" font-size="14.4" textLength="24.25" lengthAdjust="spacingAndGlyphs" style="stroke-width:0.3px">200</text>
<text x="298.57" y="704.71" font-size="14.4" textLength="24.56" lengthAdjust="spacingAndGlyphs" style="stroke-width:0.3px">150</text>
<text x="298.57" y="735.11" font-size="14.4" textLength="24.56" lengthAdjust="spacingAndGlyphs" style="stroke-width:0.3px">100</text>
<text x="306.81" y="765.71" font-size="14.4" textLength="16.32" lengthAdjust="spacingAndGlyphs" style="stroke-width:0.3px">50</text>
<text x="314.75" y="795.31" font-size="14.4" textLength="8.4" lengthAdjust="spacingAndGlyphs" style="stroke-width:0.3px">0</text>
<text x="323.56" y="807.97" font-size="14" textLength="8.17" lengthAdjust="spacingAndGlyphs" style="stroke-width:0.3px">0</text>
<text x="346.62" y="807.97" font-size="14" textLength="7.85" lengthAdjust="spacingAndGlyphs" style="stroke-width:0.3px">4</text>
<text x="371.43" y="807.97" font-size="14" textLength="8.52" lengthAdjust="spacingAndGlyphs" style="stroke-width:0.3px">6</text>
<text x="395.4" y="807.97" font-size="14" textLength="8.34" lengthAdjust="spacingAndGlyphs" style="stroke-width:0.3px">8</text>
<text x="416.37" y="807.97" font-size="14" textLength="16.36" lengthAdjust="spacingAndGlyphs" style="stroke-width:0.3px">10</text>
<text x="440.96" y="807.97" font-size="14" textLength="16.53" lengthAdjust="spacingAndGlyphs" style="stroke-width:0.3px">12</text>
<text x="465.98" y="807.97" font-size="14" textLength="16.2" lengthAdjust="spacingAndGlyphs" style="stroke-width:0.3px">14</text>
<text x="357.27" y="823.8" font-size="12.6" textLength="102.09" lengthAdjust="spacingAndGlyphs" style="stroke-width:0.3px">Days in culture</text>
<text transform="translate(278.6 832.2) rotate(-90)" x="-1.21" font-size="12.6" textLength="189.71" lengthAdjust="spacingAndGlyphs" style="stroke-width:0.3px">Protein levels in pcDNA3-Sc</text>
<text transform="translate(293.6 842.5) rotate(-90)" x="-0.15" font-size="12.6" textLength="207.77" lengthAdjust="spacingAndGlyphs" style="stroke-width:0.3px">transfected cells (% of control)</text>
<circle cx="339.2" cy="667" r="4.5" fill="#000"/>
<text x="345.61" y="669.8" font-size="11" textLength="25.9" lengthAdjust="spacingAndGlyphs" style="stroke-width:0.3px">Rac2</text>
<circle cx="339.2" cy="678.4" r="3.9" fill="#fff" stroke="#000" stroke-width="1"/>
<text x="345.45" y="682.2" font-size="11" textLength="39.87" lengthAdjust="spacingAndGlyphs" style="stroke-width:0.3px">Gelsolin</text>
<polyline points="351.6,709.2 400.2,727 448.7,747.8 474,741.4" fill="none" stroke="#000" stroke-width="1.45" stroke-dasharray="4.6 3"/>
<polyline points="351.6,726.3 400.2,711 448.7,672.8 473.5,681" fill="none" stroke="#000" stroke-width="1.5"/>
<line x1="351.6" y1="720.3" x2="351.6" y2="732.3" stroke="#000" stroke-width="1.2"/>
<line x1="344" y1="720.3" x2="359.2" y2="720.3" stroke="#000" stroke-width="1.25"/>
<line x1="344" y1="732.3" x2="359.2" y2="732.3" stroke="#000" stroke-width="1.25"/>
<line x1="400.2" y1="706.2" x2="400.2" y2="715.8" stroke="#000" stroke-width="1.2"/>
<line x1="392" y1="706.2" x2="408.4" y2="706.2" stroke="#000" stroke-width="1.25"/>
<line x1="392" y1="715.8" x2="408.4" y2="715.8" stroke="#000" stroke-width="1.25"/>
<line x1="448.7" y1="668.2" x2="448.7" y2="677.4" stroke="#000" stroke-width="1.2"/>
<line x1="440.9" y1="668.2" x2="456.5" y2="668.2" stroke="#000" stroke-width="1.25"/>
<line x1="440.9" y1="677.4" x2="456.5" y2="677.4" stroke="#000" stroke-width="1.25"/>
<line x1="473.5" y1="670.4" x2="473.5" y2="691.6" stroke="#000" stroke-width="1.2"/>
<line x1="465.1" y1="670.4" x2="481.9" y2="670.4" stroke="#000" stroke-width="1.25"/>
<line x1="465.1" y1="691.6" x2="481.9" y2="691.6" stroke="#000" stroke-width="1.25"/>
<line x1="351.6" y1="702.7" x2="351.6" y2="715.7" stroke="#000" stroke-width="1.2"/>
<line x1="344" y1="702.7" x2="359.2" y2="702.7" stroke="#000" stroke-width="1.25"/>
<line x1="344" y1="715.7" x2="359.2" y2="715.7" stroke="#000" stroke-width="1.25"/>
<line x1="400.2" y1="721.4" x2="400.2" y2="732.6" stroke="#000" stroke-width="1.2"/>
<line x1="392" y1="721.4" x2="408.4" y2="721.4" stroke="#000" stroke-width="1.25"/>
<line x1="392" y1="732.6" x2="408.4" y2="732.6" stroke="#000" stroke-width="1.25"/>
<line x1="448.7" y1="745.2" x2="448.7" y2="750.4" stroke="#000" stroke-width="1.2"/>
<line x1="441.7" y1="745.2" x2="455.7" y2="745.2" stroke="#000" stroke-width="1.25"/>
<line x1="441.7" y1="750.4" x2="455.7" y2="750.4" stroke="#000" stroke-width="1.25"/>
<line x1="474" y1="738.6" x2="474" y2="744.2" stroke="#000" stroke-width="1.2"/>
<line x1="467.5" y1="738.6" x2="480.5" y2="738.6" stroke="#000" stroke-width="1.25"/>
<line x1="467.5" y1="744.2" x2="480.5" y2="744.2" stroke="#000" stroke-width="1.25"/>
<circle cx="351.6" cy="726.3" r="4.9" fill="#000"/>
<circle cx="400.2" cy="711" r="4.9" fill="#000"/>
<circle cx="448.7" cy="672.8" r="4.9" fill="#000"/>
<circle cx="473.5" cy="681" r="4.9" fill="#000"/>
<circle cx="351.6" cy="709.2" r="4.1" fill="#fff" stroke="#000" stroke-width="1.25"/>
<circle cx="400.2" cy="727" r="4.1" fill="#fff" stroke="#000" stroke-width="1.25"/>
<circle cx="448.7" cy="747.8" r="4.1" fill="#fff" stroke="#000" stroke-width="1.25"/>
<circle cx="474" cy="741.4" r="4.1" fill="#fff" stroke="#000" stroke-width="1.25"/>
<text x="451.5" y="669.55" font-size="17" text-anchor="middle" style="stroke-width:.12px">*</text>
<text x="472.3" y="672.25" font-size="17" text-anchor="middle" style="stroke-width:.12px">*</text>
<text x="485.5" y="672.25" font-size="17" text-anchor="middle" style="stroke-width:.12px">*</text>
<text x="448.8" y="746.36" font-size="17" text-anchor="middle" style="stroke-width:.12px">*</text>
<text x="461.2" y="746.36" font-size="17" text-anchor="middle" style="stroke-width:.12px">*</text>
<text x="473.3" y="738.96" font-size="17" text-anchor="middle" style="stroke-width:.12px">*</text>
<text x="486.1" y="738.96" font-size="17" text-anchor="middle" style="stroke-width:.12px">*</text>
</svg>
</body></html>
